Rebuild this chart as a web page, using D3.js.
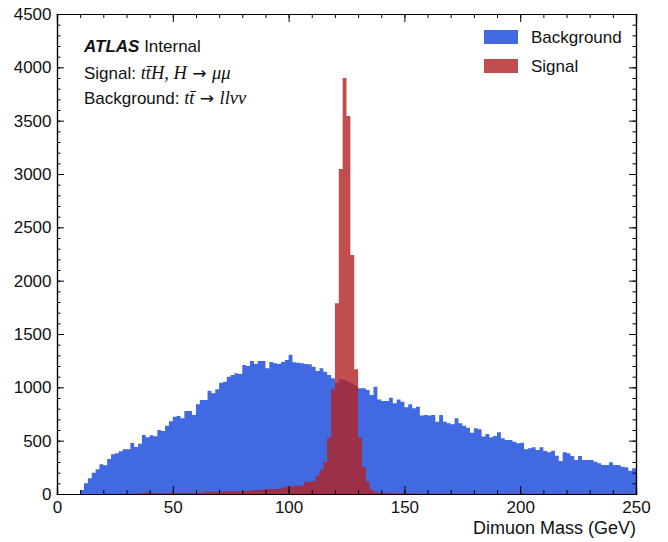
<!DOCTYPE html>
<html>
<head>
<meta charset="utf-8">
<script src="https://cdn.jsdelivr.net/npm/d3@7"></script>
<style>
  body { margin: 0; background: #fff; }
  text { font-family: "Liberation Sans", Arial, sans-serif; fill: #111; }
</style>
</head>
<body>
<svg id="chart" width="668" height="542"></svg>
<script>
// histogram binning: 150 bins from 0 to 250 GeV
const massRange = [0, 250];
const nBins = 150;

// bin contents, one value per bin
const background = [
  0, 0, 0, 0, 0, 0, 37, 100, 147, 200,
  231, 278, 269, 328, 372, 381, 400, 419, 419, 478,
  441, 472, 553, 531, 550, 541, 600, 591, 641, 681,
  725, 731, 709, 778, 778, 741, 841, 881, 881, 969,
  944, 981, 1044, 1053, 1100, 1116, 1131, 1125, 1209, 1200,
  1247, 1219, 1247, 1247, 1178, 1237, 1225, 1219, 1237, 1256,
  1306, 1234, 1231, 1225, 1219, 1216, 1194, 1153, 1178, 1147,
  1116, 1084, 1044, 1075, 1069, 1053, 1037, 1010, 991, 991,
  975, 928, 1006, 887, 872, 872, 903, 850, 887, 866,
  813, 841, 803, 819, 735, 741, 735, 741, 678, 741,
  678, 663, 653, 709, 663, 641, 622, 575, 616, 606,
  538, 563, 531, 544, 578, 522, 506, 506, 491, 475,
  481, 419, 428, 438, 412, 438, 403, 391, 406, 359,
  309, 391, 381, 356, 319, 356, 319, 319, 319, 303,
  288, 272, 272, 297, 272, 272, 256, 250, 219, 241
];

const signal = [
  0, 0, 0, 0, 0, 0, 0, 0, 0, 0,
  0, 0, 0, 5, 0, 0, 5, 0, 5, 0,
  8, 8, 12, 15, 8, 10, 10, 8, 10, 12,
  10, 12, 10, 12, 10, 10, 10, 12, 22, 20,
  22, 20, 22, 25, 26, 26, 26, 28, 30, 28,
  35, 37, 38, 42, 47, 47, 48, 50, 59, 69,
  70, 78, 78, 80, 112, 118, 120, 170, 225, 300,
  528, 981, 1788, 3047, 3900, 3544, 2240, 1169, 530, 253,
  116, 42, 20, 12, 10, 8, 12, 8, 6, 6,
  5, 4, 6, 4, 3, 5, 3, 4, 3, 3,
  2, 3, 4, 2, 3, 2, 3, 3, 2, 2,
  3, 2, 2, 3, 2, 2, 2, 3, 2, 2,
  2, 2, 3, 2, 2, 2, 2, 3, 2, 2,
  2, 2, 2, 2, 2, 3, 2, 2, 2, 2,
  2, 2, 2, 3, 2, 2, 2, 2, 2, 3
];

const xTicks = [0, 50, 100, 150, 200, 250];
const yTicks = [0, 500, 1000, 1500, 2000, 2500, 3000, 3500, 4000, 4500];
const seriesNames = ['Background', 'Signal'];
const seriesColors = ['#4169e1', '#b22222'];

const svg = d3.select('#chart');
const margin = { top: 14, right: 32, bottom: 48, left: 57 };
const W = 668, H = 542;

const x = d3.scaleLinear().domain(massRange).range([margin.left, W - margin.right]);
const y = d3.scaleLinear().domain([0, 4500]).range([H - margin.bottom, margin.top]);

const binW = (massRange[1] - massRange[0]) / nBins;

// turn counts into step points (last edge repeats last count)
const toSteps = counts => {
  const pts = counts.map((c, i) => ({ e: massRange[0] + i * binW, c }));
  pts.push({ e: massRange[1], c: counts[counts.length - 1] });
  return pts;
};

const area = d3.area()
  .curve(d3.curveStepAfter)
  .x(d => x(d.e))
  .y0(y(0))
  .y1(d => y(d.c));

svg.append('path')
  .datum(toSteps(background))
  .attr('fill', seriesColors[0])
  .attr('d', area);

svg.append('path')
  .datum(toSteps(signal))
  .attr('fill', seriesColors[1])
  .attr('fill-opacity', 0.8)
  .attr('d', area);

// axes, ticks pointing inwards on all four sides
const xMinor = d3.range(0, 251, 10);
const yMinor = d3.range(0, 4501, 100);

svg.append('g').attr('transform', `translate(0,${y(0)})`)
  .call(d3.axisBottom(x).tickValues(xTicks).tickSize(-8).tickPadding(7).tickFormat(d3.format('d')));
svg.append('g').attr('transform', `translate(0,${y(0)})`)
  .call(d3.axisBottom(x).tickValues(xMinor).tickSize(-4).tickFormat(''));
svg.append('g').attr('transform', `translate(0,${y(4500)})`)
  .call(d3.axisTop(x).tickValues(xTicks).tickSize(-8).tickFormat(''));
svg.append('g').attr('transform', `translate(0,${y(4500)})`)
  .call(d3.axisTop(x).tickValues(xMinor).tickSize(-4).tickFormat(''));

svg.append('g').attr('transform', `translate(${x(0)},0)`)
  .call(d3.axisLeft(y).tickValues(yTicks).tickSize(-7).tickPadding(5.5).tickFormat(d3.format('d')));
svg.append('g').attr('transform', `translate(${x(0)},0)`)
  .call(d3.axisLeft(y).tickValues(yMinor).tickSize(-3.5).tickFormat(''));
svg.append('g').attr('transform', `translate(${x(250)},0)`)
  .call(d3.axisRight(y).tickValues(yTicks).tickSize(-7).tickFormat(''));
svg.append('g').attr('transform', `translate(${x(250)},0)`)
  .call(d3.axisRight(y).tickValues(yMinor).tickSize(-3.5).tickFormat(''));

svg.selectAll('.domain').attr('stroke', '#000').attr('stroke-width', 1.2);
svg.selectAll('.tick line').attr('stroke', '#000');
svg.selectAll('.tick text')
  .style('font-family', '"Liberation Sans", Arial, sans-serif')
  .style('font-size', '17px').attr('fill', '#111');

// x axis title
svg.append('text')
  .attr('x', x(250)).attr('y', 534)
  .attr('text-anchor', 'end')
  .style('font-size', '18px')
  .text('Dimuon Mass (GeV)');

// legend
const legend = svg.append('g');
seriesNames.forEach((name, i) => {
  const ly = 37 + i * 29;
  legend.append('rect')
    .attr('x', 484).attr('y', ly - 7).attr('width', 34).attr('height', 14)
    .attr('fill', seriesColors[i]).attr('fill-opacity', i === 1 ? 0.8 : 1);
  legend.append('text')
    .attr('x', 531).attr('y', ly + 6)
    .style('font-size', '17px')
    .text(name);
});

// ATLAS label block
const math = '"Liberation Serif", "DejaVu Serif", serif';
const arrowFont = '"DejaVu Sans", sans-serif';
const mathPart = (sel, txt, italic) => sel.append('tspan')
  .style('font-family', math).style('font-size', '18.5px')
  .style('font-style', italic ? 'italic' : 'normal').text(txt);

const t1 = svg.append('text').attr('x', 84).attr('y', 52).style('font-size', '17px');
t1.append('tspan').style('font-weight', 'bold').style('font-style', 'italic').text('ATLAS');
t1.append('tspan').text(' Internal');

const t2 = svg.append('text').attr('x', 84).attr('y', 79).style('font-size', '17px');
t2.append('tspan').text('Signal: ');
mathPart(t2, 'tt\u0304H', true);
mathPart(t2, ', ', false);
mathPart(t2, 'H', true);
t2.append('tspan').style('font-family', arrowFont).text(' \u2192 ');
mathPart(t2, '\u03bc\u03bc', true);

const t3 = svg.append('text').attr('x', 84).attr('y', 104).style('font-size', '17px');
t3.append('tspan').text('Background: ');
mathPart(t3, 'tt\u0304', true);
t3.append('tspan').style('font-family', arrowFont).text(' \u2192 ');
mathPart(t3, 'll\u03bd\u03bd', true);
</script>
</body>
</html>
